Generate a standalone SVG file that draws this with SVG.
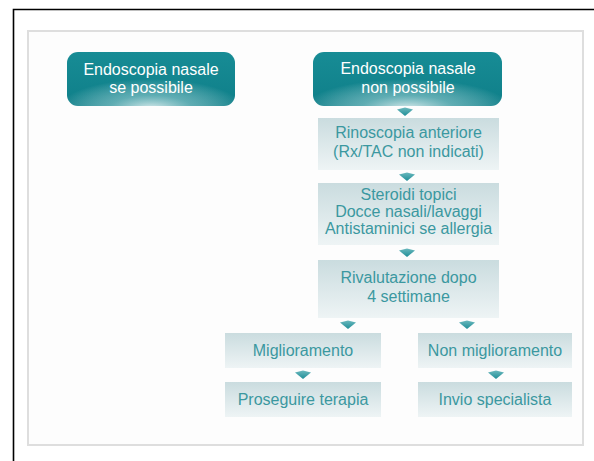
<svg xmlns="http://www.w3.org/2000/svg" width="594" height="461" viewBox="0 0 594 461">
  <defs>
    <linearGradient id="tealBase" x1="0" y1="0" x2="0" y2="1">
      <stop offset="0" stop-color="#178c95"/>
      <stop offset="1" stop-color="#0f7f89"/>
    </linearGradient>
    <radialGradient id="tealGlow" cx="0.5" cy="1.05" r="0.55" fx="0.5" fy="1.05">
      <stop offset="0" stop-color="#ffffff" stop-opacity="0.85"/>
      <stop offset="0.45" stop-color="#bfe3e5" stop-opacity="0.45"/>
      <stop offset="1" stop-color="#ffffff" stop-opacity="0"/>
    </radialGradient>
    <linearGradient id="stepFill" x1="0" y1="0" x2="0" y2="1">
      <stop offset="0" stop-color="#cadcdf"/>
      <stop offset="1" stop-color="#eef4f5"/>
    </linearGradient>
    <linearGradient id="arrowFill" x1="0" y1="0" x2="0" y2="1">
      <stop offset="0" stop-color="#6ab8bd"/>
      <stop offset="1" stop-color="#1f8e97"/>
    </linearGradient>
    <path id="chev" d="M-8,1.5 L0,-0.5 L8,1.5 L0,8 Z"/>
  </defs>
  <style>
    .lead { font-family: "Liberation Sans", Arial, sans-serif; font-size: 16px; fill: #ffffff; text-anchor: middle; }
    .step { font-family: "Liberation Sans", Arial, sans-serif; font-size: 16px; fill: #3b98a0; text-anchor: middle; }
    .box { fill: url(#stepFill); }
  </style>

  <rect width="594" height="461" fill="#ffffff"/>
  <!-- outer frame, open at right and bottom -->
  <path d="M13.5,461 L13.5,9.5 L594,9.5" fill="none" stroke="#000000" stroke-width="1.6"/>
  <!-- inner panel -->
  <rect x="28" y="31" width="555" height="414" fill="#fdfdfd" stroke="#dedede" stroke-width="2"/>

  <g id="n-endo-si">
    <rect x="67" y="52" width="168" height="54" rx="11" fill="url(#tealBase)"/>
    <rect x="67" y="52" width="168" height="54" rx="11" fill="url(#tealGlow)"/>
    <text class="lead" x="151" y="75">Endoscopia nasale</text>
    <text class="lead" x="151" y="93">se possibile</text>
  </g>

  <g id="n-endo-no">
    <rect x="313" y="52" width="189" height="54" rx="11" fill="url(#tealBase)"/>
    <rect x="313" y="52" width="189" height="54" rx="11" fill="url(#tealGlow)"/>
    <text class="lead" x="408" y="74">Endoscopia nasale</text>
    <text class="lead" x="408" y="93">non possibile</text>
  </g>

  <g id="n-rinoscopia">
    <rect class="box" x="318" y="118" width="181" height="52"/>
    <text class="step" x="408.5" y="138">Rinoscopia anteriore</text>
    <text class="step" x="408.5" y="157">(Rx/TAC non indicati)</text>
  </g>

  <g id="n-terapia">
    <rect class="box" x="318" y="183" width="181" height="62"/>
    <text class="step" x="408.5" y="200">Steroidi topici</text>
    <text class="step" x="408.5" y="217">Docce nasali/lavaggi</text>
    <text class="step" x="408.5" y="234">Antistaminici se allergia</text>
  </g>

  <g id="n-rivalutazione">
    <rect class="box" x="318" y="260" width="181" height="58"/>
    <text class="step" x="408.5" y="283">Rivalutazione dopo</text>
    <text class="step" x="408.5" y="302">4 settimane</text>
  </g>

  <g id="n-miglioramento">
    <rect class="box" x="225" y="333" width="156" height="35"/>
    <text class="step" x="303" y="356">Miglioramento</text>
  </g>

  <g id="n-non-miglioramento">
    <rect class="box" x="418" y="333" width="154" height="35"/>
    <text class="step" x="495" y="356">Non miglioramento</text>
  </g>

  <g id="n-proseguire">
    <rect class="box" x="225" y="382" width="156" height="35"/>
    <text class="step" x="303" y="405">Proseguire terapia</text>
  </g>

  <g id="n-specialista">
    <rect class="box" x="418" y="382" width="154" height="35"/>
    <text class="step" x="495" y="405">Invio specialista</text>
  </g>

  <!-- connectors: small down-pointing arrowheads -->
  <g id="connectors" fill="url(#arrowFill)">
    <use href="#chev" x="405" y="108"/>
    <use href="#chev" x="407" y="173"/>
    <use href="#chev" x="407" y="249"/>
    <use href="#chev" x="348" y="321"/>
    <use href="#chev" x="467" y="321"/>
    <use href="#chev" x="303" y="371"/>
    <use href="#chev" x="496" y="371"/>
  </g>
</svg>
